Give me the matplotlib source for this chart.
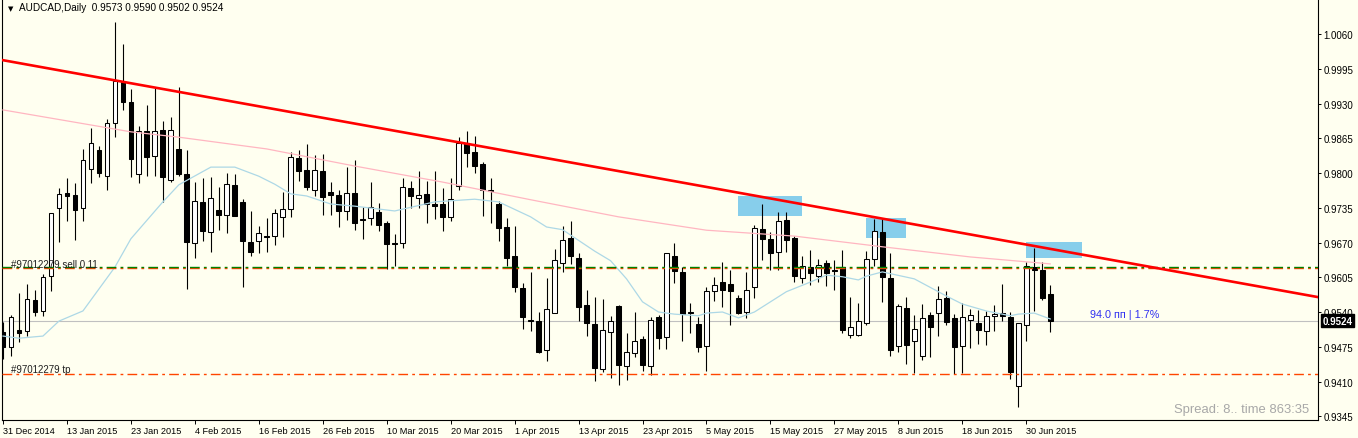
import matplotlib.pyplot as plt
from matplotlib.patches import Rectangle

plt.rcParams['font.family'] = ['Liberation Sans', 'DejaVu Sans']
plt.rcParams['lines.scale_dashes'] = False

# daily OHLC, 31 Dec 2014 .. 3 Jul 2015 (one entry per bar)
opens = [
    0.9503, 0.9475, 0.9506, 0.9504, 0.9563, 0.9542, 0.9607, 0.9735, 0.9763, 0.9759,
    0.9735, 0.9808, 0.9843, 0.9794, 0.9894, 0.9970, 0.9933, 0.9798, 0.9879, 0.9832,
    0.9880, 0.9787, 0.9845, 0.9798, 0.9669, 0.9746, 0.9690, 0.9731, 0.9722, 0.9778,
    0.9746, 0.9671, 0.9673, 0.9682, 0.9682, 0.9718, 0.9733, 0.9828, 0.9806, 0.9768,
    0.9804, 0.9765, 0.9759, 0.9729, 0.9763, 0.9714, 0.9716, 0.9727, 0.9707, 0.9669,
    0.9669, 0.9772, 0.9753, 0.9761, 0.9742, 0.9742, 0.9718, 0.9776, 0.9856, 0.9839,
    0.9817, 0.9768, 0.9742, 0.9699, 0.9645, 0.9585, 0.9525, 0.9523, 0.9469, 0.9538,
    0.9632, 0.9679, 0.9641, 0.9553, 0.9518, 0.9433, 0.9503, 0.9551, 0.9439, 0.9463,
    0.9490, 0.9439, 0.9531, 0.9493, 0.9645, 0.9615, 0.9540, 0.9518, 0.9476, 0.9579,
    0.9596, 0.9592, 0.9566, 0.9540, 0.9587, 0.9695, 0.9677, 0.9652, 0.9712, 0.9679,
    0.9604, 0.9624, 0.9607, 0.9632, 0.9619, 0.9624, 0.9497, 0.9497, 0.9519, 0.9639,
    0.9690, 0.9604, 0.9476, 0.9548, 0.9486, 0.9458, 0.9534, 0.9538, 0.9566, 0.9529,
    0.9476, 0.9525, 0.9519, 0.9504, 0.9533, 0.9538, 0.9531, 0.9402, 0.9516, 0.9624,
    0.9619, 0.9573]
highs = [
    0.9521, 0.9534, 0.9576, 0.9592, 0.9581, 0.9611, 0.9720, 0.9772, 0.9791, 0.9781,
    0.9845, 0.9884, 0.9851, 0.9901, 1.0083, 1.0041, 0.9957, 0.9888, 0.9927, 0.9959,
    0.9897, 0.9905, 0.9961, 0.9843, 0.9783, 0.9791, 0.9792, 0.9774, 0.9800, 0.9798,
    0.9751, 0.9729, 0.9701, 0.9716, 0.9733, 0.9765, 0.9839, 0.9843, 0.9854, 0.9834,
    0.9836, 0.9783, 0.9768, 0.9811, 0.9824, 0.9736, 0.9783, 0.9744, 0.9710, 0.9686,
    0.9791, 0.9785, 0.9804, 0.9785, 0.9804, 0.9772, 0.9791, 0.9867, 0.9879, 0.9869,
    0.9821, 0.9791, 0.9748, 0.9716, 0.9701, 0.9594, 0.9615, 0.9540, 0.9604, 0.9658,
    0.9701, 0.9710, 0.9650, 0.9581, 0.9568, 0.9564, 0.9533, 0.9553, 0.9501, 0.9540,
    0.9495, 0.9531, 0.9534, 0.9650, 0.9669, 0.9624, 0.9557, 0.9531, 0.9587, 0.9606,
    0.9634, 0.9619, 0.9572, 0.9615, 0.9703, 0.9742, 0.9690, 0.9727, 0.9727, 0.9682,
    0.9645, 0.9656, 0.9639, 0.9637, 0.9637, 0.9656, 0.9568, 0.9557, 0.9654, 0.9714,
    0.9714, 0.9650, 0.9555, 0.9568, 0.9534, 0.9555, 0.9540, 0.9589, 0.9579, 0.9536,
    0.9557, 0.9546, 0.9544, 0.9542, 0.9553, 0.9592, 0.9540, 0.9519, 0.9634, 0.9660,
    0.9634, 0.9590]
lows = [
    0.9452, 0.9458, 0.9484, 0.9495, 0.9533, 0.9533, 0.9579, 0.9671, 0.9710, 0.9675,
    0.9710, 0.9781, 0.9792, 0.9768, 0.9867, 0.9918, 0.9792, 0.9781, 0.9794, 0.9794,
    0.9746, 0.9783, 0.9794, 0.9583, 0.9641, 0.9673, 0.9652, 0.9693, 0.9688, 0.9722,
    0.9587, 0.9645, 0.9650, 0.9652, 0.9665, 0.9680, 0.9718, 0.9785, 0.9768, 0.9757,
    0.9722, 0.9722, 0.9699, 0.9712, 0.9693, 0.9677, 0.9703, 0.9692, 0.9621, 0.9626,
    0.9660, 0.9735, 0.9735, 0.9707, 0.9714, 0.9692, 0.9710, 0.9768, 0.9811, 0.9800,
    0.9720, 0.9707, 0.9673, 0.9626, 0.9578, 0.9508, 0.9504, 0.9463, 0.9448, 0.9538,
    0.9615, 0.9630, 0.9523, 0.9495, 0.9411, 0.9428, 0.9417, 0.9404, 0.9413, 0.9456,
    0.9430, 0.9422, 0.9471, 0.9471, 0.9594, 0.9486, 0.9501, 0.9465, 0.9430, 0.9561,
    0.9549, 0.9516, 0.9536, 0.9529, 0.9566, 0.9637, 0.9619, 0.9619, 0.9652, 0.9596,
    0.9594, 0.9591, 0.9596, 0.9589, 0.9581, 0.9501, 0.9491, 0.9495, 0.9516, 0.9626,
    0.9559, 0.9458, 0.9465, 0.9443, 0.9426, 0.9450, 0.9456, 0.9495, 0.9516, 0.9424,
    0.9426, 0.9473, 0.9480, 0.9478, 0.9504, 0.9523, 0.9415, 0.9362, 0.9486, 0.9542,
    0.9563, 0.9502]
closes = [
    0.9475, 0.9531, 0.9501, 0.9564, 0.9540, 0.9606, 0.9725, 0.9761, 0.9757, 0.9731,
    0.9824, 0.9856, 0.9800, 0.9894, 0.9972, 0.9933, 0.9826, 0.9879, 0.9830, 0.9879,
    0.9792, 0.9880, 0.9798, 0.9671, 0.9748, 0.9692, 0.9753, 0.9722, 0.9779, 0.9720,
    0.9673, 0.9652, 0.9688, 0.9680, 0.9725, 0.9733, 0.9830, 0.9804, 0.9774, 0.9806,
    0.9755, 0.9759, 0.9729, 0.9763, 0.9707, 0.9712, 0.9736, 0.9703, 0.9667, 0.9668,
    0.9774, 0.9757, 0.9759, 0.9742, 0.9738, 0.9718, 0.9751, 0.9856, 0.9837, 0.9813,
    0.9768, 0.9767, 0.9697, 0.9641, 0.9587, 0.9531, 0.9523, 0.9465, 0.9546, 0.9637,
    0.9675, 0.9645, 0.9549, 0.9519, 0.9435, 0.9506, 0.9523, 0.9441, 0.9465, 0.9486,
    0.9441, 0.9525, 0.9491, 0.9650, 0.9617, 0.9536, 0.9539, 0.9475, 0.9579, 0.9591,
    0.9581, 0.9579, 0.9538, 0.9581, 0.9697, 0.9677, 0.9650, 0.9710, 0.9675, 0.9607,
    0.9626, 0.9613, 0.9628, 0.9613, 0.9617, 0.9506, 0.9512, 0.9523, 0.9639, 0.9692,
    0.9606, 0.9469, 0.9551, 0.9478, 0.9508, 0.9529, 0.9512, 0.9564, 0.9521, 0.9475,
    0.9531, 0.9534, 0.9506, 0.9533, 0.9536, 0.9533, 0.9428, 0.9519, 0.9626, 0.9619,
    0.9566, 0.9524]

# moving averages (bar index -> price)
ma_slow_bars = [0, 16, 22, 33, 44, 55, 66, 77, 88, 99, 110, 121, 131]
ma_slow_vals = [0.9918, 0.9877, 0.9867, 0.9845, 0.9813, 0.9783, 0.9750, 0.9718,
                0.9693, 0.9682, 0.9662, 0.9643, 0.9630]
ma_fast_bars = [0, 2, 5, 7, 10, 12, 14, 16, 20, 22, 26, 29, 32, 34, 36, 38, 41, 44,
                49, 54, 59, 62, 66, 68, 70, 74, 76, 78, 80, 82, 84, 87, 88, 90, 92,
                94, 96, 98, 101, 103, 105, 107, 108, 110, 114, 118, 120, 123, 126,
                127, 129, 131]
ma_fast_vals = [0.9495, 0.9491, 0.9495, 0.9523, 0.9542, 0.9583, 0.9624, 0.9677, 0.9746,
                0.9778, 0.9811, 0.9811, 0.9794, 0.9779, 0.9761, 0.9757, 0.9742, 0.9738,
                0.9729, 0.9746, 0.9751, 0.9746, 0.9718, 0.9699, 0.9694, 0.9654, 0.9636,
                0.9602, 0.9559, 0.9540, 0.9536, 0.9533, 0.9538, 0.9540, 0.9529, 0.9540,
                0.9559, 0.9578, 0.9596, 0.9609, 0.9606, 0.9600, 0.9607, 0.9615, 0.9602,
                0.9570, 0.9555, 0.9542, 0.9533, 0.9536, 0.9538, 0.9527]

# trendline anchors, order levels, resistance boxes
trend_a = (0, 1.0011)
trend_b = (160, 0.9580)
sell_price = 0.96242
stop_price = 0.9622
tp_price = 0.9424
last_price = 0.9524
boxes = [(92, 100, 0.9720, 0.9757), (108, 113, 0.9678, 0.9716), (128, 135, 0.9641, 0.9671)]

date_ticks = list(range(0, 129, 8))
date_labels = ["31 Dec 2014", "13 Jan 2015", "23 Jan 2015", "4 Feb 2015", "16 Feb 2015",
               "26 Feb 2015", "10 Mar 2015", "20 Mar 2015", "1 Apr 2015", "13 Apr 2015",
               "23 Apr 2015", "5 May 2015", "15 May 2015", "27 May 2015", "8 Jun 2015",
               "18 Jun 2015", "30 Jun 2015"]
price_ticks = [0.9345 + 0.0065 * k for k in range(12)]

bg = '#FFFFF0'
W, H = 1358, 439
fig = plt.figure(figsize=(W / 100, H / 100), dpi=100)
fig.patch.set_facecolor(bg)
ax = fig.add_axes([2 / W, 1 - 421 / H, 1316 / W, 420 / H])
ax.set_facecolor(bg)
ax.set_xlim(-0.125, 164.5)
ax.set_ylim(0.93380, 1.01236)

# resistance boxes (background objects)
for x0, x1, y0, y1 in boxes:
    ax.add_patch(Rectangle((x0, y0), x1 - x0, y1 - y0, facecolor='#87CEEB',
                           edgecolor='none', zorder=1))

# candles
for i, (o, h, l, c) in enumerate(zip(opens, highs, lows, closes)):
    ax.vlines(i, l, h, color='black', lw=0.8, zorder=2)
    bottom = min(o, c)
    height = max(abs(c - o), 0.00004)
    face = 'white' if c > o else 'black'
    ax.bar(i, height, bottom=bottom, width=0.6, facecolor=face,
           edgecolor='black', linewidth=0.75, zorder=3)

# indicators
ax.plot(ma_slow_bars, ma_slow_vals, color='#FFB6C1', lw=0.9, zorder=4)
ax.plot(ma_fast_bars, ma_fast_vals, color='#ADD8E6', lw=0.9, zorder=4)

# order lines
dd = (0, (7, 3, 2, 3))
ax.axhline(stop_price, color='#FF4500', lw=1.0, linestyle=dd, zorder=4)
ax.axhline(sell_price, color='#008000', lw=1.0, linestyle=dd, zorder=4.1)
ax.axhline(tp_price, color='#FF4500', lw=1.0, linestyle=dd, zorder=4)
ax.axhline(last_price, color='#C0C0C0', lw=0.8, zorder=1.5)

ax.axline(trend_a, trend_b, color='red', lw=1.9, zorder=5)

ax.text(1, sell_price + 0.0005, "#97012279 sell 0.11", fontsize=7, color='#202020',
        va='center', ha='left', zorder=6)
ax.text(1, tp_price + 0.0010, "#97012279 tp", fontsize=7, color='#202020',
        va='center', ha='left', zorder=6)
ax.text(136, 0.9536, "94.0 пп | 1.7%", fontsize=7.8, color='#3030F0',
        va='center', ha='left', zorder=6)
ax.text(0.9935, 0.027, "Spread: 8.. time 863:35", transform=ax.transAxes,
        fontsize=9.4, color='#A8A8A8', ha='right', va='center', zorder=6)

# axes styling
for side in ['top', 'bottom']:
    ax.spines[side].set_visible(side == 'bottom')
for sp in ax.spines.values():
    sp.set_linewidth(0.8)
ax.yaxis.tick_right()
ax.set_yticks(price_ticks)
ax.set_yticklabels([f"{p:.4f}" for p in price_ticks])
ax.tick_params(axis='y', length=2.5, width=0.7, pad=1.5, labelsize=7, direction='out')
ax.set_xticks(date_ticks)
ax.set_xticklabels(date_labels, ha='left')
ax.tick_params(axis='x', length=3, width=0.7, pad=1.0, labelsize=6.6, direction='out')

ax.annotate(f"{last_price:.4f}", xy=(1.0, last_price), xycoords=('axes fraction', 'data'),
            xytext=(3.5, 0), textcoords='offset points', fontsize=7, fontweight='bold',
            color='white', va='center', ha='left',
            bbox=dict(boxstyle='square,pad=0.15', facecolor='black', edgecolor='black'))

fig.text(8 / W, 1 - 9 / H, "▼", fontsize=5, family='DejaVu Sans', va='center', ha='left')
fig.text(19 / W, 1 - 8 / H, "AUDCAD,Daily  0.9573 0.9590 0.9502 0.9524", fontsize=7.2,
         va='center', ha='left')

fig.savefig("out.png", dpi=100, facecolor=bg)
